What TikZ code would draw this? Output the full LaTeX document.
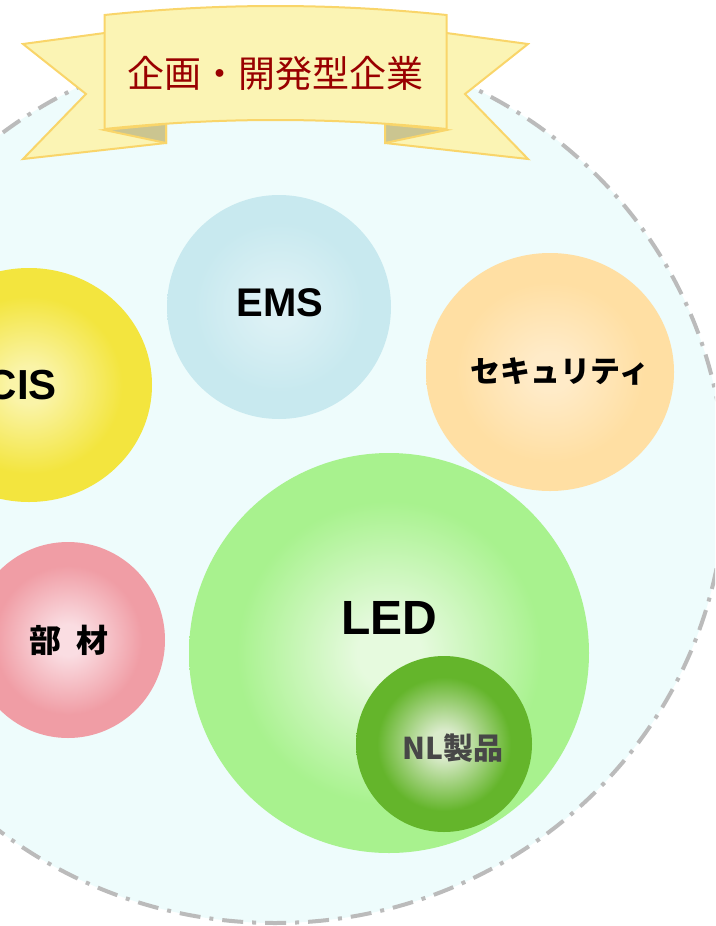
\documentclass[tikz,border=0pt]{standalone}
\usepackage{fontspec}
\setmainfont{Liberation Sans}
\newfontfamily\jpfont{Noto Sans CJK JP}

\definecolor{areafill}{HTML}{EEFCFC}
\definecolor{areaedge}{HTML}{BBBBBB}
\definecolor{ribbonfill}{HTML}{FBF4B4}
\definecolor{ribbonedge}{HTML}{F9D56A}
\definecolor{ribbonfold}{HTML}{CBC590}
\definecolor{titlered}{HTML}{990000}
\definecolor{emsin}{HTML}{DCF1F5}    \definecolor{emsout}{HTML}{C8E9EF}
\definecolor{secin}{HTML}{FFEBC8}    \definecolor{secout}{HTML}{FFDFA3}
\definecolor{cisin}{HTML}{FAF4A8}    \definecolor{cisout}{HTML}{F3E53E}
\definecolor{partin}{HTML}{FADDE2}   \definecolor{partout}{HTML}{F09DA5}
\definecolor{ledin}{HTML}{E6FADE}    \definecolor{ledout}{HTML}{A8F28E}
\definecolor{nlin}{HTML}{DAEBCB}     \definecolor{nlout}{HTML}{64B52B}
\definecolor{nltext}{HTML}{474747}

\pgfdeclareradialshading[glowin,glowout]{bubble}{\pgfpoint{0bp}{0bp}}{color(0bp)=(glowin); color(4bp)=(glowin); color(19bp)=(glowout); color(50bp)=(glowout)}

\begin{document}
\begin{tikzpicture}[x=1pt, y=-1pt,
    bubble/.style 2 args={/utils/exec={\colorlet{glowin}{#1}\colorlet{glowout}{#2}}, shading=bubble},
    ribbon/.style={draw=ribbonedge, fill=ribbonfill, line width=2pt},
    fold/.style={draw=ribbonedge, fill=ribbonfold, line width=2pt},
    tag/.style={font=\bfseries\fontsize{#1}{#1}\selectfont, inner sep=0pt},
    jptag/.style={font=\jpfont\bfseries\fontsize{#1}{#1}\selectfont, inner sep=0pt}]
    \useasboundingbox (0,0) rectangle (715,926);
    \clip (0,0) rectangle (715,926);
    % area of the company
    \draw[areaedge, fill=areafill, line width=4pt, dash pattern=on 21pt off 9pt on 4pt off 9pt] (275,483) ellipse [x radius=450, y radius=440];
    % business fields
    \shade[bubble={emsin}{emsout}] (279,307) circle [radius=112];
    \shade[bubble={secin}{secout}] (550,372) ellipse [x radius=124, y radius=119];
    \shade[bubble={cisin}{cisout}] (29,385) ellipse [x radius=123, y radius=117];
    \shade[bubble={partin}{partout}] (68,640) ellipse [x radius=97, y radius=98];
    \shade[bubble={ledin}{ledout}] (389,653) circle [radius=200];
    \shade[bubble={nlin}{nlout}] (444,744) circle [radius=88];
    \node[tag=40] (ems) at (280,303) {EMS};
    \node[tag=42, anchor=east] (cis) at (57,385) {CIS};
    \node[tag=48] (led) at (389,618) {LED};
    \node[jptag=30] (security) at (560,372) {セキュリティ};
    \node[jptag=32] (parts) at (69,640) {部\hspace{0.45em}材};
    \node[jptag=30, text=nltext] (nl) at (453,748) {NL製品};
    % banner
    \filldraw[ribbon] (23,44) -- (112,32) -- (166,32) -- (166,143) -- (23,159) -- (86,94) -- cycle;
    \filldraw[ribbon] (528,44) -- (439,32) -- (385,32) -- (385,143) -- (528,159) -- (465,94) -- cycle;
    \filldraw[fold] (104.5,130) -- (166,124) -- (166,143) -- cycle;
    \filldraw[fold] (446.5,130) -- (385,124) -- (385,143) -- cycle;
    \filldraw[ribbon] (104.5,15) .. controls (220,3) and (331,3) .. (446.5,15) -- (446.5,129) .. controls (331,117) and (220,117) .. (104.5,129) -- cycle;
    \node[font=\jpfont\fontsize{37}{37}\selectfont, text=titlered, inner sep=0pt] (title) at (275.5,73) {企画・開発型企業};
\end{tikzpicture}
\end{document}
